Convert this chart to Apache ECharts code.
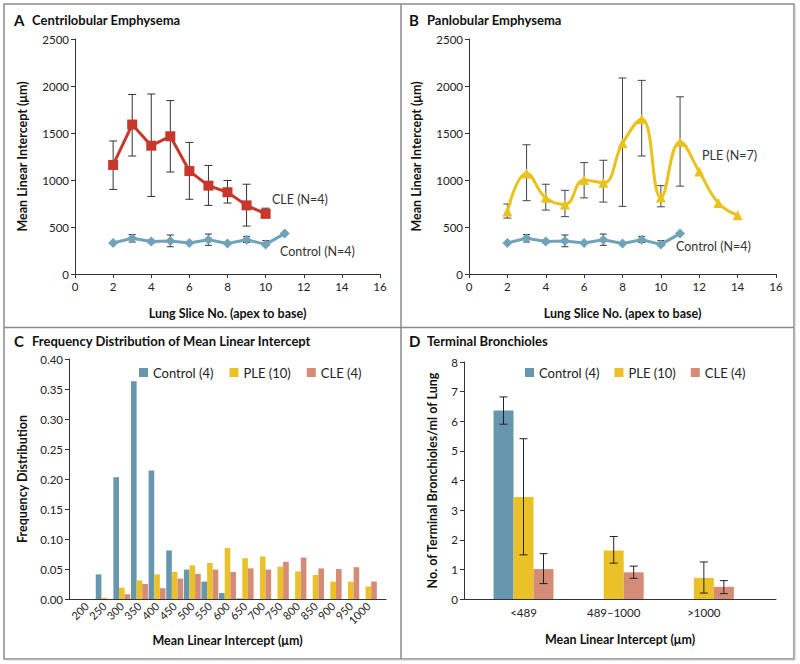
<!DOCTYPE html>
<html><head><meta charset="utf-8">
<script src="https://cdn.jsdelivr.net/npm/echarts@6/dist/echarts.min.js"></script>
<style>html,body{margin:0;padding:0;background:#fff}#c{width:800px;height:664px}</style>
</head><body><div id="c"></div>
<script>
// ---------- Data ----------
const controlSlices = [2, 3, 4, 5, 6, 7, 8, 9, 10, 11];
const controlMLI    = [330, 380, 345, 350, 330, 365, 325, 365, 315, 430];
const controlErrLow  = [null, 340, 330, 290, null, 305, null, 335, 300, null];
const controlErrHigh = [null, 420, 360, 415, null, 425, null, 400, 355, null];

const cleSlices = [2, 3, 4, 5, 6, 7, 8, 9, 10];
const cleMLI    = [1160, 1590, 1365, 1465, 1095, 940, 870, 730, 640];
const cleErrLow  = [900, 1255, 825, 1085, 795, 730, 755, 510, 605];
const cleErrHigh = [1415, 1910, 1915, 1845, 1400, 1155, 995, 955, 700];

const pleSlices = [2, 3, 4, 5, 6, 7, 8, 9, 10, 11, 12, 13, 14];
const pleMLI    = [665, 1070, 810, 740, 1000, 970, 1390, 1650, 815, 1405, 1090, 755, 625];
const pleErrLow  = [595, 780, 680, 610, 810, 765, 720, 1255, 715, 935, null, null, null];
const pleErrHigh = [745, 1375, 955, 890, 1185, 1210, 2085, 2060, 940, 1885, null, null, null];

const mliBins     = [200, 250, 300, 350, 400, 450, 500, 550, 600, 650, 700, 750, 800, 850, 900, 950, 1000];
const freqControl = [0, 0.041, 0.203, 0.363, 0.214, 0.081, 0.049, 0.029, 0.010, 0.001, 0, 0, 0, 0, 0, 0, 0];
const freqPLE     = [0, 0.002, 0.019, 0.031, 0.041, 0.045, 0.056, 0.060, 0.085, 0.068, 0.071, 0.054, 0.046, 0.040, 0.029, 0.029, 0.021];
const freqCLE     = [0, 0, 0.008, 0.025, 0.018, 0.034, 0.042, 0.049, 0.045, 0.051, 0.049, 0.062, 0.069, 0.051, 0.050, 0.053, 0.029];

const tbCategories = ['<489', '489\u20131000', '>1000'];
const tbControl = [6.36, null, null];
const tbControlLow = [5.9, null, null];
const tbControlHigh = [6.82, null, null];
const tbPLE = [3.44, 1.64, 0.71];
const tbPLELow = [1.49, 1.21, 0.20];
const tbPLEHigh = [5.41, 2.11, 1.25];
const tbCLE = [1.01, 0.90, 0.41];
const tbCLELow = [0.52, 0.70, 0.18];
const tbCLEHigh = [1.53, 1.11, 0.62];

const groupNames = ['Control (4)', 'PLE (10)', 'CLE (4)'];

// ---------- Style ----------
const FONT = 'Lato';
const C_CTRL_LINE = '#6fa3bc';
const C_CLE_LINE = '#c8372a';
const C_PLE_LINE = '#e9c21c';
const C_CTRL_BAR = '#6797ae';
const C_PLE_BAR = '#ebc12a';
const C_CLE_BAR = '#d48c76';
const AXIS_COLOR = '#333';

// ---------- Helpers ----------
const pairs = (xs, ys) => xs.map((x, i) => [x, ys[i]]).filter(d => d[1] != null);
const errTriples = (xs, lo, hi) => xs.map((x, i) => [x, lo[i], hi[i]]).filter(d => d[1] != null);
const plain = v => String(v);

function errRender(capHalf, color, width, pxOffset) {
  return function (params, api) {
    const x = api.value(0), lo = api.value(1), hi = api.value(2);
    const p1 = api.coord([x, lo]), p2 = api.coord([x, hi]);
    const cx = p1[0] + (pxOffset || 0);
    const st = { stroke: color, lineWidth: width };
    return {
      type: 'group', children: [
        { type: 'line', shape: { x1: cx, y1: p1[1], x2: cx, y2: p2[1] }, style: st },
        { type: 'line', shape: { x1: cx - capHalf, y1: p1[1], x2: cx + capHalf, y2: p1[1] }, style: st },
        { type: 'line', shape: { x1: cx - capHalf, y1: p2[1], x2: cx + capHalf, y2: p2[1] }, style: st }
      ]
    };
  };
}

const tickLabel = { fontFamily: FONT, fontSize: 11.5, color: '#222' };
const axisNameStyle = { fontFamily: FONT, fontSize: 12.5, fontWeight: 'bold', color: '#111' };
const axisLineStyle = { lineStyle: { color: AXIS_COLOR, width: 1 } };
const axisTickStyle = { show: true, length: 4, lineStyle: { color: AXIS_COLOR } };

function sliceXAxis(gi) {
  return {
    gridIndex: gi, type: 'value', min: 0, max: 16, interval: 2,
    axisLine: axisLineStyle, axisTick: axisTickStyle, splitLine: { show: false },
    axisLabel: Object.assign({ margin: 6, formatter: plain }, tickLabel),
    name: 'Lung Slice No. (apex to base)', nameLocation: 'middle', nameGap: 33,
    nameTextStyle: axisNameStyle
  };
}
function mliYAxis(gi) {
  return {
    gridIndex: gi, type: 'value', min: 0, max: 2500, interval: 500,
    axisLine: { show: true, lineStyle: { color: AXIS_COLOR } }, axisTick: axisTickStyle, splitLine: { show: false },
    axisLabel: Object.assign({ margin: 6, formatter: plain }, tickLabel),
    name: 'Mean Linear Intercept (\u03bcm)', nameLocation: 'middle', nameGap: 46, nameRotate: 90,
    nameTextStyle: axisNameStyle
  };
}

function controlLine(gi) {
  return {
    type: 'line', name: 'Control (N=4)', xAxisIndex: gi, yAxisIndex: gi,
    data: pairs(controlSlices, controlMLI), symbol: 'diamond', symbolSize: 10,
    lineStyle: { color: C_CTRL_LINE, width: 3 }, itemStyle: { color: C_CTRL_LINE }, z: 3
  };
}
function controlErr(gi) {
  return {
    type: 'custom', xAxisIndex: gi, yAxisIndex: gi, z: 2,
    data: errTriples(controlSlices, controlErrLow, controlErrHigh),
    renderItem: errRender(3.5, '#333', 1)
  };
}

const legendText = { fontFamily: FONT, fontSize: 13, color: '#222' };

const option = {
  animation: false,
  backgroundColor: '#fff',
  textStyle: { fontFamily: FONT },
  grid: [
    { left: 75, top: 39, width: 305, height: 235 },
    { left: 469, top: 39, width: 307, height: 235 },
    { left: 69, top: 359, width: 317, height: 240 },
    { left: 464, top: 362, width: 312, height: 237 }
  ],
  legend: [
    { data: groupNames, left: 134, top: 361, icon: 'rect', itemWidth: 9, itemHeight: 9, itemGap: 16, textStyle: legendText },
    { data: groupNames, left: 520, top: 361, icon: 'rect', itemWidth: 9, itemHeight: 9, itemGap: 15, textStyle: legendText }
  ],
  xAxis: [
    sliceXAxis(0),
    sliceXAxis(1),
    {
      gridIndex: 2, type: 'value', min: 150, max: 1050,
      axisLine: axisLineStyle, axisTick: { show: false }, splitLine: { show: false },
      axisLabel: Object.assign({ rotate: 45, margin: 5, customValues: mliBins, formatter: plain }, tickLabel, { fontSize: 11 }),
      name: 'Mean Linear Intercept (\u03bcm)', nameLocation: 'middle', nameGap: 35, nameTextStyle: axisNameStyle
    },
    {
      gridIndex: 3, type: 'value', min: 0.34, max: 3.8,
      axisLine: axisLineStyle, axisTick: { show: false }, splitLine: { show: false },
      axisLabel: Object.assign({ margin: 7, customValues: [1, 2, 3],
        formatter: v => tbCategories[Math.round(v) - 1] || '' }, tickLabel),
      name: 'Mean Linear Intercept (\u03bcm)', nameLocation: 'middle', nameGap: 34, nameTextStyle: axisNameStyle
    }
  ],
  yAxis: [
    mliYAxis(0),
    mliYAxis(1),
    {
      gridIndex: 2, type: 'value', min: 0, max: 0.4, interval: 0.05,
      axisLine: { show: true, lineStyle: { color: AXIS_COLOR } }, axisTick: axisTickStyle, splitLine: { show: false },
      axisLabel: Object.assign({ margin: 6, formatter: v => v.toFixed(2) }, tickLabel),
      name: 'Frequency Distribution', nameLocation: 'middle', nameGap: 40, nameRotate: 90, nameTextStyle: axisNameStyle
    },
    {
      gridIndex: 3, type: 'value', min: 0, max: 8, interval: 1,
      axisLine: { show: true, lineStyle: { color: AXIS_COLOR } }, axisTick: axisTickStyle, splitLine: { show: false },
      axisLabel: Object.assign({ margin: 6 }, tickLabel),
      name: 'No. of Terminal Bronchioles/ml of Lung', nameLocation: 'middle', nameGap: 25, nameRotate: 90, nameTextStyle: axisNameStyle
    }
  ],
  series: [
    // Panel A
    {
      type: 'custom', xAxisIndex: 0, yAxisIndex: 0, z: 2,
      data: errTriples(cleSlices, cleErrLow, cleErrHigh), renderItem: errRender(4, '#333', 1)
    },
    controlErr(0),
    {
      type: 'line', name: 'CLE (N=4)', xAxisIndex: 0, yAxisIndex: 0,
      data: pairs(cleSlices, cleMLI), symbol: 'rect', symbolSize: 10,
      lineStyle: { color: C_CLE_LINE, width: 3 }, itemStyle: { color: C_CLE_LINE }, z: 3
    },
    controlLine(0),
    // Panel B
    {
      type: 'custom', xAxisIndex: 1, yAxisIndex: 1, z: 2,
      data: errTriples(pleSlices, pleErrLow, pleErrHigh), renderItem: errRender(4, '#444', 1)
    },
    controlErr(1),
    {
      type: 'line', name: 'PLE (N=7)', xAxisIndex: 1, yAxisIndex: 1,
      data: pairs(pleSlices, pleMLI), symbol: 'triangle', symbolSize: 10, smooth: 0.45,
      lineStyle: { color: C_PLE_LINE, width: 3 }, itemStyle: { color: C_PLE_LINE }, z: 3
    },
    controlLine(1),
    // Panel C
    { type: 'bar', name: groupNames[0], xAxisIndex: 2, yAxisIndex: 2, data: pairs(mliBins, freqControl),
      itemStyle: { color: C_CTRL_BAR }, barGap: '0%', barCategoryGap: '4%' },
    { type: 'bar', name: groupNames[1], xAxisIndex: 2, yAxisIndex: 2, data: pairs(mliBins, freqPLE),
      itemStyle: { color: C_PLE_BAR }, barGap: '0%', barCategoryGap: '4%' },
    { type: 'bar', name: groupNames[2], xAxisIndex: 2, yAxisIndex: 2, data: pairs(mliBins, freqCLE),
      itemStyle: { color: C_CLE_BAR }, barGap: '0%', barCategoryGap: '4%' },
    // Panel D
    { type: 'bar', name: groupNames[0], xAxisIndex: 3, yAxisIndex: 3, data: pairs([1, 2, 3], tbControl),
      itemStyle: { color: C_CTRL_BAR }, barWidth: 20, barGap: '0%' },
    { type: 'bar', name: groupNames[1], xAxisIndex: 3, yAxisIndex: 3, data: pairs([1, 2, 3], tbPLE),
      itemStyle: { color: C_PLE_BAR }, barWidth: 20, barGap: '0%' },
    { type: 'bar', name: groupNames[2], xAxisIndex: 3, yAxisIndex: 3, data: pairs([1, 2, 3], tbCLE),
      itemStyle: { color: C_CLE_BAR }, barWidth: 20, barGap: '0%' },
    { type: 'custom', xAxisIndex: 3, yAxisIndex: 3, z: 5, data: errTriples([1, 2, 3], tbControlLow, tbControlHigh),
      renderItem: errRender(4, '#222', 1, -20) },
    { type: 'custom', xAxisIndex: 3, yAxisIndex: 3, z: 5, data: errTriples([1, 2, 3], tbPLELow, tbPLEHigh),
      renderItem: errRender(4, '#222', 1, 0) },
    { type: 'custom', xAxisIndex: 3, yAxisIndex: 3, z: 5, data: errTriples([1, 2, 3], tbCLELow, tbCLEHigh),
      renderItem: errRender(4, '#222', 1, 20) }
  ],
  graphic: [
    // frame and dividers
    { type: 'rect', shape: { x: 4, y: 4, width: 790, height: 655 }, style: { fill: 'none', stroke: '#8a8a8a', lineWidth: 1.5 }, silent: true },
    { type: 'line', shape: { x1: 5, y1: 660, x2: 795, y2: 660 }, style: { stroke: '#c8c8c8', lineWidth: 1 }, silent: true },
    { type: 'line', shape: { x1: 795, y1: 5, x2: 795, y2: 660 }, style: { stroke: '#c8c8c8', lineWidth: 1 }, silent: true },
    { type: 'line', shape: { x1: 401, y1: 4, x2: 401, y2: 659 }, style: { stroke: '#8a8a8a', lineWidth: 1.5 }, silent: true },
    { type: 'line', shape: { x1: 4, y1: 327.5, x2: 794, y2: 327.5 }, style: { stroke: '#8a8a8a', lineWidth: 1.5 }, silent: true },
    // panel titles
    { type: 'text', left: 14, top: 12, style: { text: 'A', font: 'bold 15px Lato', fill: '#111' } },
    { type: 'text', left: 32, top: 13, style: { text: 'Centrilobular Emphysema', font: 'bold 13px Lato', fill: '#111' } },
    { type: 'text', left: 409, top: 12, style: { text: 'B', font: 'bold 15px Lato', fill: '#111' } },
    { type: 'text', left: 427, top: 13, style: { text: 'Panlobular Emphysema', font: 'bold 13px Lato', fill: '#111' } },
    { type: 'text', left: 14, top: 333, style: { text: 'C', font: 'bold 15px Lato', fill: '#111' } },
    { type: 'text', left: 32, top: 334, style: { text: 'Frequency Distribution of Mean Linear Intercept', font: 'bold 13px Lato', fill: '#111' } },
    { type: 'text', left: 409, top: 333, style: { text: 'D', font: 'bold 15px Lato', fill: '#111' } },
    { type: 'text', left: 427, top: 334, style: { text: 'Terminal Bronchioles', font: 'bold 13px Lato', fill: '#111' } },
    // series annotations
    { type: 'text', left: 272, top: 193, style: { text: 'CLE (N=4)', font: '12.5px Lato', fill: '#333' } },
    { type: 'text', left: 280, top: 245, style: { text: 'Control (N=4)', font: '12.5px Lato', fill: '#333' } },
    { type: 'text', left: 702, top: 149, style: { text: 'PLE (N=7)', font: '12.5px Lato', fill: '#333' } },
    { type: 'text', left: 676, top: 240, style: { text: 'Control (N=4)', font: '12.5px Lato', fill: '#333' } }
  ]
};

const chart = echarts.init(document.getElementById('c'), null, { renderer: 'svg' });
chart.setOption(option);
</script>
</body></html>
